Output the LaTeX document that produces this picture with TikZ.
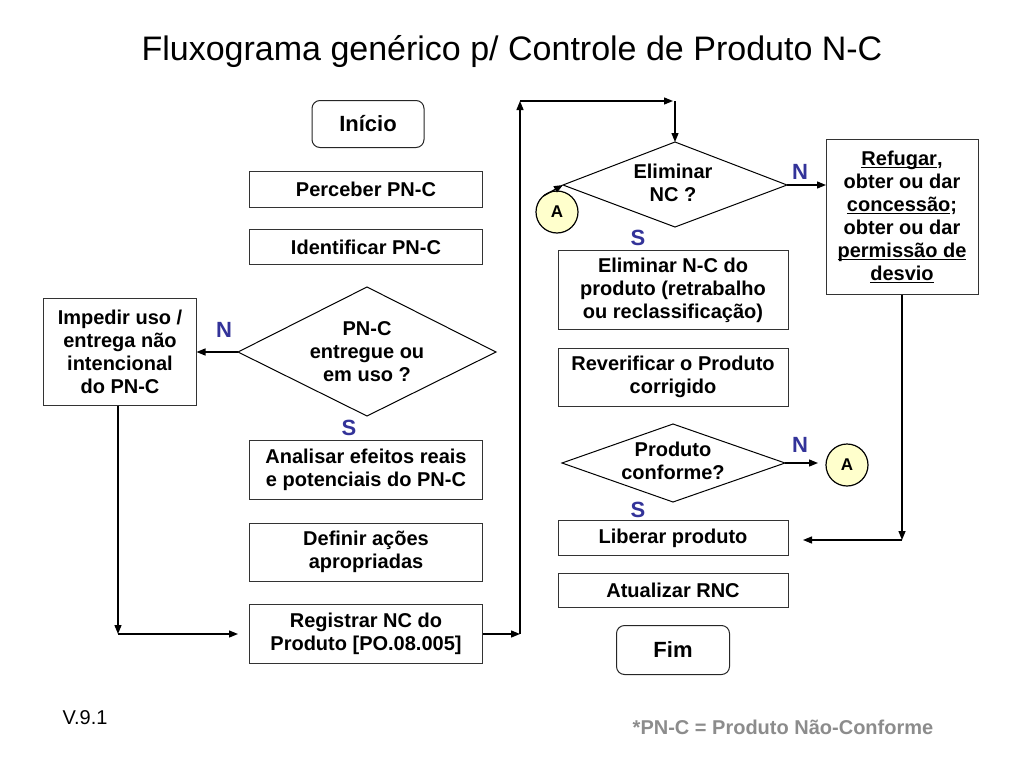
\documentclass[tikz,border=0pt]{standalone}
\usepackage{fontspec}
\setmainfont{Liberation Sans}
\usetikzlibrary{shapes.geometric,arrows.meta}
\definecolor{lblblue}{HTML}{333399}
\definecolor{circfill}{HTML}{FFFFCC}
\definecolor{notegray}{HTML}{8C8C8C}
\newcommand{\myul}[1]{\setbox0\hbox{#1}\rlap{\rule[-3.5pt]{\wd0}{1.3pt}}\box0}
\begin{document}
\begin{tikzpicture}[x=1pt,y=-1pt,
  every node/.style={inner sep=0pt,outer sep=0pt},
  txt/.style={font=\fontsize{20}{23}\selectfont\bfseries,align=center},
  procbox/.style={txt,draw=black!80,line width=1pt,rectangle},
  termbox/.style={txt,font=\fontsize{22}{25}\selectfont\bfseries,draw=black!85,line width=1pt,rounded corners=8pt},
  conn/.style={draw=black,line width=1.2pt,circle,fill=circfill,minimum size=42pt,font=\fontsize{17}{19}\selectfont\bfseries},
  lbl/.style={font=\fontsize{22}{24}\selectfont\bfseries,text=lblblue},
  arr/.style={line width=1.3pt,-{Triangle[length=9pt,width=7pt]}},
  ln/.style={line width=1.3pt}
]
\useasboundingbox (0,0) rectangle (1024,768);
\fill[white] (0,0) rectangle (1024,768);

\node (title) at (512,52) {\fontsize{34}{37}\selectfont Fluxograma genérico p/ Controle de Produto N-C};

% left column
\node[termbox,minimum width=112pt,minimum height=47pt] (ini) at (368,124) {Início};
\node[procbox,minimum width=233pt,minimum height=36pt] (perc) at (366,189) {Perceber PN-C};
\node[procbox,minimum width=233pt,minimum height=35pt] (ident) at (366,247) {Identificar PN-C};
\draw[line width=1pt] (238,352) -- (367,287) -- (496,352) -- (367,416) -- cycle;
\coordinate (dw) at (238,352);
\node[txt] (dtxt) at (367,352) {PN-C\\entregue ou\\em uso ?};
\node[procbox,minimum width=153pt,minimum height=107pt] (imp) at (120,352) {Impedir uso /\\entrega não\\intencional\\do PN-C};
\node[lbl] (n1) at (224,330) {N};
\node[lbl] (s1) at (349,428) {S};
\node[procbox,minimum width=233pt,minimum height=59pt] (anal) at (366,470) {Analisar efeitos reais\\e potenciais do PN-C};
\node[procbox,minimum width=233pt,minimum height=58pt] (def) at (366,552) {Definir ações\\apropriadas};
\node[procbox,minimum width=233pt,minimum height=59pt] (reg) at (366,634) {Registrar NC do\\Produto [PO.08.005]};

\draw[arr] (dw) -- (imp.east);
\coordinate (c1) at (118,634);
\coordinate (c2) at (238,634);
\draw[arr] (imp.south -| c1) -- (c1);
\draw[arr] (c1) -- (c2);

% connector up and over
\coordinate (u1) at (520,634);
\coordinate (u2) at (520,101);
\coordinate (u3) at (673,101);
\coordinate (u4) at (675,101);
\draw[arr] (reg.east) -- (u1);
\draw[arr] (u1) -- (u2);
\draw[arr] (u2) -- (u3);

% right column
\draw[line width=1pt] (563,185) -- (675,142) -- (787,185) -- (675,227) -- cycle;
\coordinate (ew) at (563,185);
\coordinate (ee) at (787,185);
\coordinate (en) at (675,142);
\node[txt] (etxt) at (673,183) {Eliminar\\NC ?};
\draw[arr] (u4) -- (en);
\node[conn] (a1) at (557,212) {A};
\draw[arr] (a1.130) -- (ew);
\node[lbl] (n2) at (800,172) {N};
\node[lbl] (s2) at (638,238) {S};

\node[procbox,minimum width=152pt,minimum height=155pt] (ref) at (902,217)
  {\myul{Refugar},\\obter ou dar\\\myul{concessão};\\obter ou dar\\\myul{permissão de}\\\myul{desvio}};
\draw[arr] (ee) -- (ref.west |- ee);

\node[procbox,minimum width=230pt,minimum height=79pt] (elim) at (673,290) {Eliminar N-C do\\produto (retrabalho\\ou reclassificação)};
\node[procbox,minimum width=230pt,minimum height=58pt] (rev) at (673,377) {Reverificar o Produto\\corrigido};

\draw[line width=1pt] (562,463) -- (673,424) -- (785,463) -- (673,502) -- cycle;
\coordinate (pe) at (785,463);
\node[txt] (ptxt) at (673,461) {Produto\\conforme?};
\node[conn] (a2) at (847,465) {A};
\draw[arr] (pe) -- ([xshift=-8pt]a2.west |- pe);
\node[lbl] (n3) at (800,445) {N};
\node[lbl] (s3) at (638,510) {S};

\node[procbox,minimum width=230pt,minimum height=35pt] (lib) at (673,538) {Liberar produto};
\coordinate (r1) at (902,540);
\coordinate (r2) at (803,540);
\draw[arr] (ref.south) -- (r1);
\draw[arr] (r1) -- (r2);

\node[procbox,minimum width=230pt,minimum height=34pt] (atu) at (673,590) {Atualizar RNC};
\node[termbox,minimum width=113pt,minimum height=49pt] (fim) at (673,650) {Fim};

\node (ver) at (85,718) {\fontsize{20}{22}\selectfont V.9.1};
\node (note) at (783,727) {\fontsize{20}{22}\selectfont\bfseries\color{notegray}*PN-C = Produto Não-Conforme};
\end{tikzpicture}
\end{document}
